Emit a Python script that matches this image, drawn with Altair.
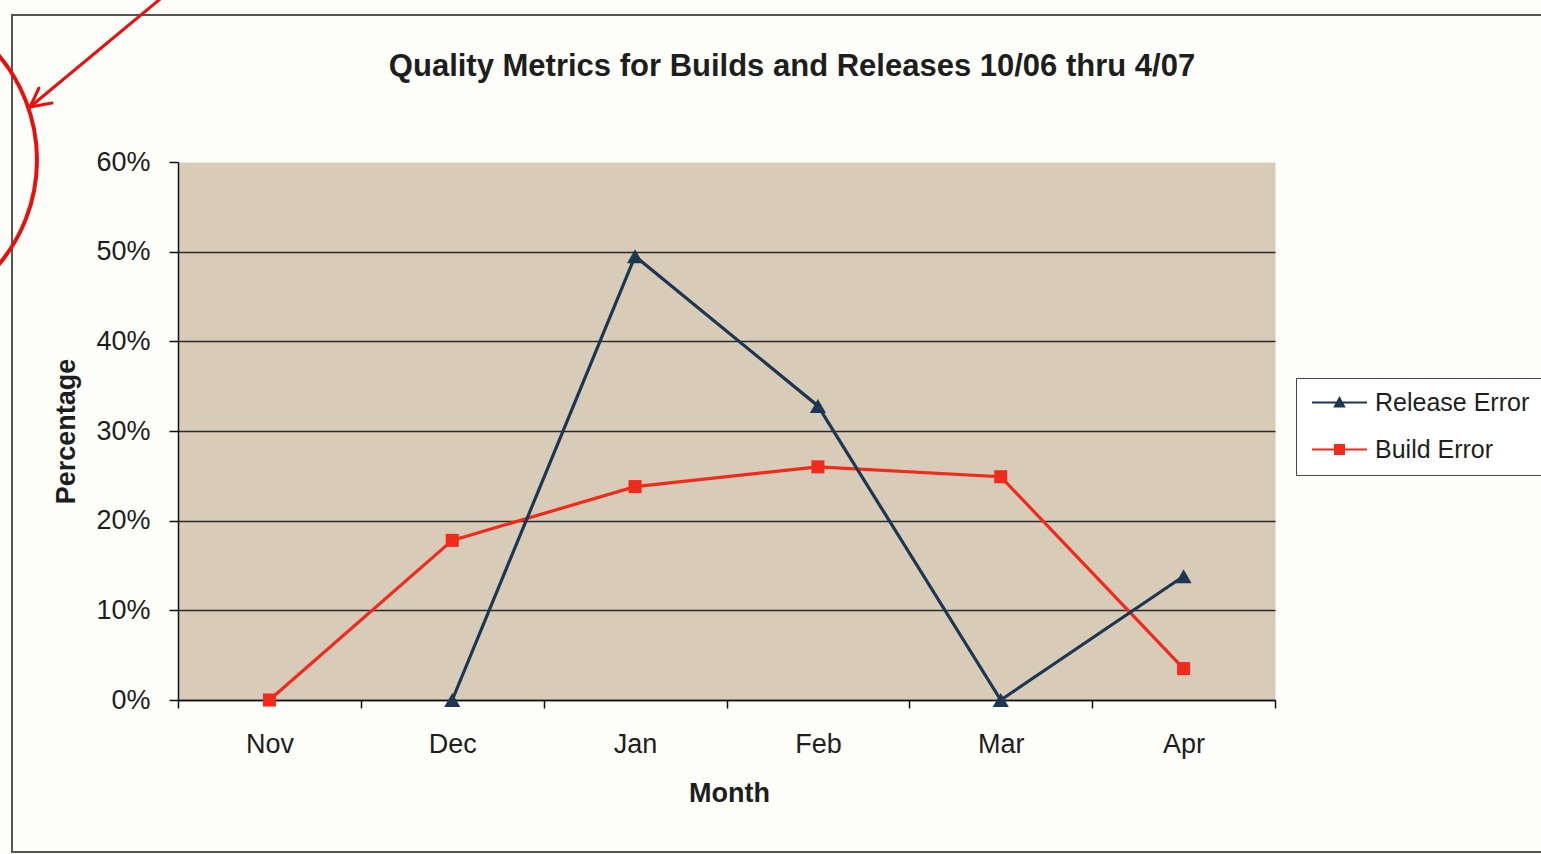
import altair as alt
import pandas as pd

# ---- data -----------------------------------------------------------------
months = ["Nov", "Dec", "Jan", "Feb", "Mar", "Apr"]
release_error = [None, 0.0, 0.495, 0.328, 0.0, 0.138]
build_error = [0.0, 0.178, 0.238, 0.260, 0.249, 0.035]

series_names = ["Release Error", "Build Error"]
series_colors = ["#1d3653", "#f02a1c"]
y_ticks = [0.0, 0.1, 0.2, 0.3, 0.4, 0.5, 0.6]

chart_title = "Quality Metrics for Builds and Releases 10/06 thru 4/07"

rows = []
for i, (m, r, b) in enumerate(zip(months, release_error, build_error)):
    if r is not None:
        rows.append({"month": m, "idx": i, "series": "Release Error", "value": r})
    rows.append({"month": m, "idx": i, "series": "Build Error", "value": b})
df = pd.DataFrame(rows)

# ---- style ----------------------------------------------------------------
FONT = "Liberation Sans"
INK = "#1e1e1e"
PLOT_W, PLOT_H = 1097, 538

# legend glyphs: a short line with the series marker in its middle
legend_shapes = [
    "M-5.5,-0.2H5.5V0.2H-5.5Z M-1.25,1L0,-1.3L1.25,1Z",
    "M-5.5,-0.2H5.5V0.2H-5.5Z M-1.1,-1.1H1.1V1.1H-1.1Z",
]

x_enc = alt.X(
    "month:N",
    sort=months,
    bandPosition=0.5,
    scale=alt.Scale(type="band", domain=months, paddingInner=0, paddingOuter=0),
    axis=alt.Axis(
        title="Month",
        labelAngle=0,
        tickBand="extent",
        tickSize=8,
        tickColor="#111",
        tickWidth=1.5,
        domainColor="#111",
        domainWidth=1.5,
        labelPadding=23,
        labelFontSize=27,
        labelColor=INK,
        labelFont=FONT,
        titleFont=FONT,
        titleFontSize=27,
        titleFontWeight="bold",
        titleColor=INK,
        titleX=551,
        titleY=93,
        titleBaseline="middle",
        grid=False,
    ),
)

y_enc = alt.Y(
    "value:Q",
    scale=alt.Scale(domain=[0, 0.6], nice=False),
    axis=alt.Axis(
        title="Percentage",
        values=y_ticks,
        format=".0%",
        tickSize=9,
        tickColor="#111",
        tickWidth=1.5,
        domainColor="#111",
        domainWidth=1.5,
        labelPadding=19,
        labelFontSize=27,
        labelColor=INK,
        labelFont=FONT,
        titleFont=FONT,
        titleFontSize=27,
        titleFontWeight="bold",
        titleColor=INK,
        titleX=-112,
        titleY=PLOT_H / 2,
        titleBaseline="middle",
        grid=True,
        gridColor={"condition": {"test": "datum.value >= 0.59", "value": "transparent"}, "value": "#2a2a2a"},
        gridWidth=1.4,
    ),
)

color_scale = alt.Scale(domain=series_names, range=series_colors)

base = alt.Chart(df)

lines = base.mark_line(strokeWidth=3.2).encode(
    x=x_enc,
    y=y_enc,
    color=alt.Color("series:N", scale=color_scale, legend=None),
    order=alt.Order("idx:Q"),
)

markers = base.mark_point(filled=True, opacity=1).encode(
    x=x_enc,
    y=y_enc,
    color=alt.Color("series:N", scale=color_scale, legend=None),
    shape=alt.Shape(
        "series:N",
        scale=alt.Scale(domain=series_names, range=["triangle-up", "square"]),
        legend=None,
    ),
    size=alt.Size(
        "series:N",
        scale=alt.Scale(domain=series_names, range=[260, 170]),
        legend=None,
    ),
)

legend_props = dict(
    title=None,
    orient="none",
    legendX=1118,
    legendY=216,
    symbolSize=100,
    symbolStrokeWidth=0,
    symbolOffset=19,
    labelOffset=23,
    labelFontSize=25,
    labelFont=FONT,
    labelColor=INK,
    padding=12,
    rowPadding=21,
    strokeColor="#444",
    fillColor="white",
)

# legend-only layer: no marks drawn, its scales carry the legend
legend_layer = base.transform_filter("false").mark_point(filled=True, opacity=1).encode(
    x=x_enc,
    y=y_enc,
    color=alt.Color("series:N", scale=color_scale, legend=alt.Legend(**legend_props)),
    shape=alt.Shape(
        "series:N",
        scale=alt.Scale(domain=series_names, range=legend_shapes),
        legend=alt.Legend(**legend_props),
    ),
)

one = pd.DataFrame({"k": [0]})

title_text = alt.Chart(one).mark_text(
    font=FONT, fontSize=31, fontWeight="bold", color=INK,
    align="center", baseline="alphabetic",
).encode(text=alt.value(chart_title), x=alt.value(614), y=alt.value(-86))

# outer frame around the whole chart
frame = alt.Chart(one).mark_rect(fill=None, stroke="#555", strokeWidth=2).encode(
    x=alt.value(-166), x2=alt.value(PLOT_W + 290),
    y=alt.value(-147), y2=alt.value(690),
)

# red pen callout: circle and arrow at the top-left corner
pen = "#e8100c"
circle = alt.Chart(one).mark_point(
    shape="circle", filled=False, stroke=pen, strokeWidth=4, size=104976, opacity=1
).encode(x=alt.value(-303), y=alt.value(-2))

def pen_stroke(x, y, x2, y2):
    return alt.Chart(one).mark_rule(stroke=pen, strokeWidth=3, strokeCap="round").encode(
        x=alt.value(x), y=alt.value(y), x2=alt.value(x2), y2=alt.value(y2)
    )

arrow = [
    pen_stroke(-13, -167, -148, -55),
    pen_stroke(-148, -55, -139, -74),
    pen_stroke(-148, -55, -126, -59),
]

chart = (
    alt.layer(frame, title_text, lines, markers, legend_layer, circle, *arrow)
    .resolve_scale(shape="independent", color="independent", size="independent")
    .properties(
        width=PLOT_W,
        height=PLOT_H,
        autosize=alt.AutoSizeParams(type="none"),
        padding={"left": 178, "top": 162, "right": 266, "bottom": 154},
        background="#fdfdfa",
    )
    .configure_view(fill="#d8cbb8", stroke="transparent")
)

chart.save("out.html", embed_options={"renderer": "svg", "actions": False})
